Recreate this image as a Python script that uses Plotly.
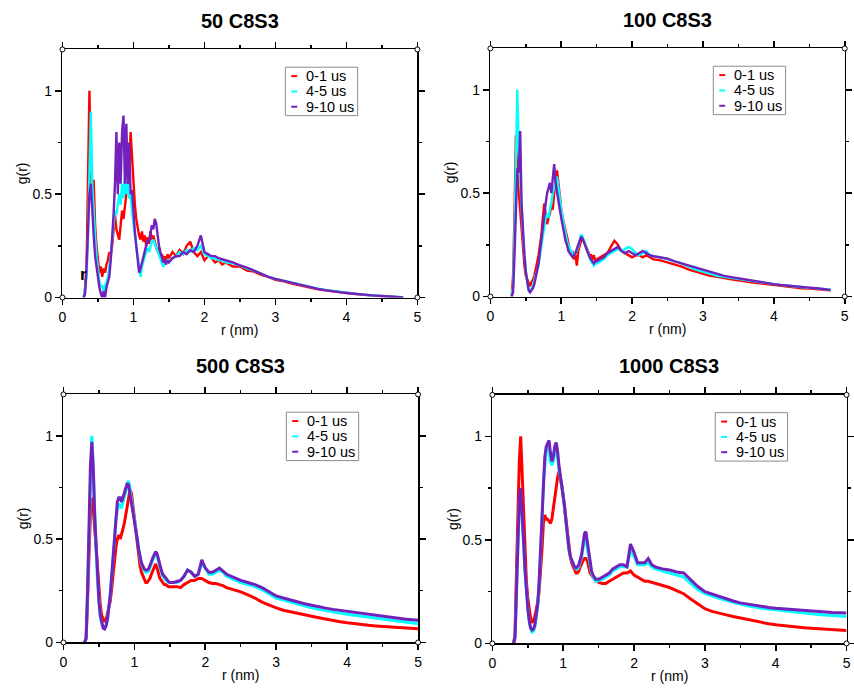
import plotly.graph_objects as go

W, H = 854, 691
FONT = "Liberation Sans, Arial, sans-serif"

# ---------------- data ----------------
r = [0.30, 0.32, 0.34, 0.36, 0.38, 0.40, 0.42, 0.44, 0.46, 0.48,
     0.50, 0.52, 0.54, 0.56, 0.58, 0.60, 0.62, 0.64, 0.66, 0.68,
     0.70, 0.72, 0.74, 0.76, 0.78, 0.80, 0.82, 0.84, 0.86, 0.88,
     0.90, 0.92, 0.94, 0.96, 0.98, 1.00, 1.02, 1.04, 1.06, 1.08,
     1.10, 1.12, 1.14, 1.16, 1.18, 1.20, 1.22, 1.24, 1.26, 1.28,
     1.30, 1.32, 1.34, 1.36, 1.38, 1.40, 1.42, 1.44, 1.46, 1.48,
     1.50, 1.55, 1.60, 1.65, 1.70, 1.75, 1.80, 1.85, 1.90, 1.95,
     2.00, 2.05, 2.10, 2.15, 2.20, 2.25, 2.30,
     2.40, 2.50, 2.60, 2.70, 2.80, 2.90, 3.00, 3.10, 3.20, 3.30,
     3.40, 3.50, 3.60, 3.70, 3.80, 3.90, 4.00, 4.10, 4.20, 4.30,
     4.40, 4.50, 4.60, 4.70, 4.80, 4.90, 5.00]

series_names = ["0-1 us", "4-5 us", "9-10 us"]
series_colors = ["#ff0000", "#00ffff", "#7221bc"]
panel_titles = ["50 C8S3", "100 C8S3", "500 C8S3", "1000 C8S3"]

# 50 C8S3
g50_0_1 = [0, 0.05, 0.15, 0.55, 1.00, 0.62, 0.45, 0.57, 0.35, 0.25,
           0.18, 0.12, 0.15, 0.10, 0.14, 0.12, 0.16, 0.18, 0.22, 0.20,
           0.25, 0.32, 0.40, 0.33, 0.30, 0.28, 0.35, 0.42, 0.38, 0.45,
           0.50, 0.55, 0.62, 0.80, 0.68, 0.52, 0.45, 0.38, 0.33, 0.30,
           0.28, 0.32, 0.27, 0.30, 0.25, 0.29, 0.26, 0.32, 0.28, 0.30,
           0.27, 0.25, 0.22, 0.24, 0.20, 0.21, 0.18, 0.20, 0.17, 0.21,
           0.19, 0.22, 0.20, 0.23, 0.21, 0.25, 0.27, 0.22, 0.20, 0.22,
           0.18, 0.20, 0.19, 0.17, 0.18, 0.16, 0.17,
           0.15, 0.15, 0.13, 0.125, 0.11, 0.10, 0.085, 0.08, 0.07, 0.062,
           0.055, 0.045, 0.04, 0.035, 0.03, 0.025, 0.022, 0.018, 0.014, 0.012,
           0.008, 0.006, 0.004, 0.002, 0.0, None, None]
g50_4_5 = [0, 0.05, 0.10, 0.30, 0.60, 0.90, 0.55, 0.40, 0.30, 0.20,
           0.12, 0.08, 0.05, 0.06, 0.03, 0.05, 0.08, 0.10, 0.15, 0.20,
           0.28, 0.35, 0.42, 0.40, 0.45, 0.50, 0.45, 0.55, 0.48, 0.58,
           0.50, 0.55, 0.48, 0.50, 0.42, 0.35, 0.30, 0.25, 0.20, 0.15,
           0.10, 0.15, 0.18, 0.20, 0.22, 0.24, 0.22, 0.25, 0.27, 0.28,
           0.26, 0.24, 0.22, 0.20, 0.18, 0.17, 0.15, 0.16, 0.17, 0.18,
           0.17, 0.19, 0.20, 0.22, 0.21, 0.23, 0.22, 0.24, 0.23, 0.25,
           0.21, 0.20, 0.19, 0.19, 0.18, 0.18, 0.17,
           0.165, 0.155, 0.14, 0.13, 0.115, 0.10, 0.09, 0.082, 0.073, 0.065,
           0.058, 0.05, 0.043, 0.037, 0.032, 0.027, 0.023, 0.019, 0.015, 0.012,
           0.009, 0.007, 0.005, 0.003, 0.001, None, None]
g50_9_10 = [0, 0.02, 0.15, 0.30, 0.50, 0.55, 0.40, 0.30, 0.20, 0.15,
            0.08, 0.05, 0.02, 0.0, 0.03, 0.0, 0.05, 0.08, 0.10, 0.18,
            0.28, 0.40, 0.55, 0.80, 0.50, 0.75, 0.55, 0.80, 0.88, 0.55,
            0.84, 0.55, 0.75, 0.50, 0.52, 0.40, 0.32, 0.25, 0.18, 0.12,
            0.14, 0.17, 0.20, 0.23, 0.25, 0.28, 0.27, 0.32, 0.35, 0.33,
            0.38, 0.36, 0.30, 0.25, 0.22, 0.20, 0.17, 0.18, 0.16, 0.18,
            0.17, 0.19, 0.20, 0.20, 0.22, 0.21, 0.23, 0.22, 0.25, 0.30,
            0.22, 0.21, 0.20, 0.20, 0.19, 0.185, 0.18,
            0.17, 0.155, 0.145, 0.13, 0.115, 0.10, 0.09, 0.082, 0.072, 0.065,
            0.057, 0.05, 0.042, 0.036, 0.03, 0.026, 0.022, 0.018, 0.015, 0.012,
            0.009, 0.007, 0.004, 0.002, 0.0, None, None]

# 100 C8S3
g100_0_1 = [0, 0.10, 0.40, 0.78, 0.60, 0.50, 0.42, 0.35, 0.25, 0.15,
            0.10, 0.08, 0.07, 0.05, 0.07, 0.08, 0.10, 0.13, 0.16, 0.20,
            0.25, 0.30, 0.38, 0.45, 0.40, 0.35, 0.38, 0.40, 0.45, 0.42,
            0.50, 0.55, 0.61, 0.55, 0.48, 0.42, 0.38, 0.35, 0.32, 0.28,
            0.25, 0.22, 0.20, 0.22, 0.18, 0.20, 0.15, 0.22, 0.25, 0.27,
            0.28, 0.27, 0.25, 0.23, 0.22, 0.20, 0.20, 0.18, 0.20, 0.17,
            0.18, 0.19, 0.20, 0.21, 0.24, 0.27, 0.25, 0.22, 0.21, 0.20,
            0.19, 0.20, 0.20, 0.19, 0.20, 0.19, 0.18,
            0.175, 0.165, 0.155, 0.145, 0.13, 0.12, 0.11, 0.10, 0.095, 0.088,
            0.083, 0.078, 0.072, 0.068, 0.064, 0.06, 0.055, 0.05, 0.047, 0.044,
            0.04, 0.038, 0.035, 0.032, 0.03, None, None]
g100_4_5 = [0, 0.05, 0.30, 0.65, 1.00, 0.70, 0.55, 0.42, 0.30, 0.20,
            0.12, 0.06, 0.03, 0.02, 0.04, 0.05, 0.08, 0.10, 0.12, 0.15,
            0.20, 0.25, 0.30, 0.35, 0.38, 0.40, 0.38, 0.42, 0.45, 0.50,
            0.52, 0.55, 0.58, 0.52, 0.47, 0.42, 0.38, 0.34, 0.30, 0.27,
            0.25, 0.23, 0.22, 0.21, 0.20, 0.21, 0.22, 0.24, 0.27, 0.30,
            0.29, 0.27, 0.24, 0.22, 0.20, 0.19, 0.17, 0.16, 0.15, 0.16,
            0.16, 0.17, 0.18, 0.20, 0.21, 0.22, 0.23, 0.22, 0.23, 0.24,
            0.23, 0.21, 0.20, 0.21, 0.22, 0.20, 0.195,
            0.19, 0.18, 0.17, 0.16, 0.145, 0.13, 0.12, 0.11, 0.10, 0.095,
            0.09, 0.085, 0.078, 0.072, 0.068, 0.064, 0.06, 0.055, 0.052, 0.048,
            0.045, 0.042, 0.04, 0.036, 0.033, None, None]
g100_9_10 = [0, 0.02, 0.20, 0.45, 0.62, 0.60, 0.80, 0.45, 0.30, 0.20,
             0.12, 0.06, 0.03, 0.02, 0.03, 0.04, 0.06, 0.09, 0.12, 0.16,
             0.22, 0.28, 0.35, 0.42, 0.45, 0.50, 0.52, 0.55, 0.50, 0.58,
             0.64, 0.55, 0.50, 0.47, 0.42, 0.38, 0.34, 0.30, 0.27, 0.25,
             0.22, 0.21, 0.20, 0.19, 0.20, 0.21, 0.23, 0.25, 0.27, 0.29,
             0.28, 0.26, 0.24, 0.22, 0.20, 0.19, 0.18, 0.17, 0.16, 0.17,
             0.17, 0.18, 0.19, 0.21, 0.22, 0.23, 0.24, 0.22, 0.21, 0.22,
             0.21, 0.20, 0.21, 0.22, 0.21, 0.20, 0.195,
             0.19, 0.183, 0.17, 0.16, 0.148, 0.138, 0.128, 0.118, 0.108, 0.10,
             0.094, 0.088, 0.082, 0.077, 0.072, 0.067, 0.06, 0.056, 0.052, 0.049,
             0.046, 0.043, 0.04, 0.036, 0.032, None, None]

# 500 C8S3
g500_0_1 = [0, 0.02, 0.20, 0.45, 0.62, 0.70, 0.65, 0.55, 0.45, 0.35,
            0.26, 0.18, 0.13, 0.11, 0.10, 0.11, 0.14, 0.17, 0.20, 0.26,
            0.33, 0.40, 0.46, 0.50, 0.52, 0.50, 0.52, 0.55, 0.58, 0.62,
            0.67, 0.72, 0.74, 0.72, 0.66, 0.60, 0.54, 0.48, 0.42, 0.37,
            0.34, 0.32, 0.30, 0.29, 0.29, 0.30, 0.31, 0.33, 0.35, 0.37,
            0.38, 0.36, 0.33, 0.31, 0.30, 0.29, 0.28, 0.28, 0.275, 0.27,
            0.27, 0.27, 0.27, 0.265, 0.28, 0.29, 0.30, 0.30, 0.31, 0.31,
            0.30, 0.29, 0.285, 0.285, 0.28, 0.275, 0.265,
            0.255, 0.245, 0.23, 0.215, 0.195, 0.18, 0.167, 0.156, 0.148, 0.14,
            0.133, 0.127, 0.12, 0.113, 0.105, 0.10, 0.095, 0.09, 0.087, 0.083,
            0.08, 0.078, 0.075, 0.072, 0.07, 0.068, 0.066]
g500_4_5 = [0, 0.02, 0.25, 0.55, 0.85, 1.00, 0.85, 0.62, 0.45, 0.30,
            0.20, 0.13, 0.09, 0.07, 0.07, 0.08, 0.11, 0.16, 0.23, 0.32,
            0.42, 0.52, 0.60, 0.64, 0.67, 0.66, 0.65, 0.68, 0.70, 0.73,
            0.77, 0.78, 0.74, 0.68, 0.64, 0.60, 0.55, 0.50, 0.45, 0.41,
            0.38, 0.36, 0.35, 0.34, 0.34, 0.345, 0.36, 0.38, 0.40, 0.42,
            0.43, 0.42, 0.39, 0.36, 0.34, 0.32, 0.31, 0.30, 0.295, 0.29,
            0.29, 0.29, 0.29, 0.30, 0.32, 0.35, 0.34, 0.32, 0.33, 0.38,
            0.36, 0.33, 0.33, 0.34, 0.35, 0.34, 0.32,
            0.305, 0.29, 0.28, 0.27, 0.255, 0.235, 0.215, 0.205, 0.195, 0.185,
            0.175, 0.168, 0.16, 0.153, 0.148, 0.142, 0.137, 0.132, 0.127, 0.122,
            0.117, 0.112, 0.107, 0.103, 0.099, 0.095, 0.092]
g500_9_10 = [0, 0.02, 0.25, 0.55, 0.85, 0.97, 0.85, 0.62, 0.45, 0.30,
             0.20, 0.13, 0.09, 0.07, 0.065, 0.08, 0.11, 0.16, 0.23, 0.32,
             0.42, 0.53, 0.62, 0.68, 0.70, 0.70, 0.68, 0.70, 0.72, 0.75,
             0.77, 0.76, 0.72, 0.67, 0.63, 0.60, 0.55, 0.50, 0.45, 0.41,
             0.385, 0.37, 0.355, 0.35, 0.35, 0.355, 0.37, 0.39, 0.41, 0.43,
             0.44, 0.43, 0.40, 0.37, 0.35, 0.33, 0.32, 0.31, 0.30, 0.295,
             0.29, 0.29, 0.295, 0.30, 0.32, 0.35, 0.34, 0.32, 0.33, 0.40,
             0.36, 0.34, 0.34, 0.35, 0.36, 0.345, 0.33,
             0.315, 0.30, 0.29, 0.28, 0.265, 0.245, 0.225, 0.215, 0.205, 0.195,
             0.187, 0.18, 0.172, 0.166, 0.16, 0.155, 0.15, 0.145, 0.14, 0.135,
             0.13, 0.126, 0.122, 0.118, 0.114, 0.11, 0.107]

# 1000 C8S3
g1000_0_1 = [0, 0.05, 0.35, 0.65, 0.88, 1.00, 0.82, 0.60, 0.42, 0.30,
             0.22, 0.16, 0.12, 0.10, 0.11, 0.13, 0.16, 0.20, 0.25, 0.33,
             0.45, 0.58, 0.62, 0.60, 0.60, 0.59, 0.58, 0.60, 0.65, 0.72,
             0.77, 0.80, 0.83, 0.80, 0.76, 0.71, 0.65, 0.58, 0.52, 0.46,
             0.42, 0.39, 0.37, 0.35, 0.34, 0.34, 0.35, 0.37, 0.39, 0.40,
             0.41, 0.41, 0.40, 0.37, 0.34, 0.33, 0.32, 0.31, 0.30, 0.30,
             0.295, 0.29, 0.29, 0.30, 0.31, 0.32, 0.33, 0.34, 0.34, 0.35,
             0.33, 0.32, 0.31, 0.30, 0.30, 0.295, 0.29,
             0.28, 0.27, 0.255, 0.24, 0.215, 0.19, 0.168, 0.155, 0.145, 0.138,
             0.13, 0.123, 0.116, 0.108, 0.10, 0.095, 0.09, 0.086, 0.082, 0.079,
             0.076, 0.074, 0.071, 0.068, 0.066, 0.064, 0.062]
g1000_4_5 = [0, 0.03, 0.25, 0.50, 0.68, 0.72, 0.62, 0.48, 0.35, 0.25,
             0.17, 0.11, 0.07, 0.055, 0.06, 0.08, 0.12, 0.18, 0.28, 0.42,
             0.60, 0.78, 0.88, 0.93, 0.95, 0.93, 0.88, 0.86, 0.88, 0.92,
             0.93, 0.90, 0.84, 0.80, 0.76, 0.72, 0.65, 0.58, 0.51, 0.45,
             0.42, 0.40, 0.38, 0.37, 0.36, 0.36, 0.37, 0.39, 0.42, 0.46,
             0.50, 0.50, 0.46, 0.41, 0.37, 0.34, 0.32, 0.31, 0.30, 0.30,
             0.305, 0.31, 0.32, 0.33, 0.35, 0.36, 0.37, 0.37, 0.37, 0.45,
             0.42, 0.38, 0.38, 0.38, 0.39, 0.37, 0.36,
             0.35, 0.34, 0.33, 0.32, 0.29, 0.26, 0.24, 0.228, 0.218, 0.208,
             0.198, 0.19, 0.182, 0.175, 0.17, 0.166, 0.162, 0.158, 0.153, 0.15,
             0.147, 0.144, 0.14, 0.137, 0.135, 0.132, 0.13]
g1000_9_10 = [0, 0.03, 0.25, 0.52, 0.70, 0.75, 0.64, 0.50, 0.36, 0.25,
              0.17, 0.11, 0.075, 0.065, 0.07, 0.09, 0.13, 0.19, 0.30, 0.45,
              0.63, 0.80, 0.90, 0.95, 0.97, 0.98, 0.92, 0.88, 0.90, 0.95,
              0.97, 0.93, 0.86, 0.81, 0.77, 0.73, 0.66, 0.59, 0.52, 0.46,
              0.42, 0.40, 0.38, 0.37, 0.365, 0.37, 0.38, 0.40, 0.43, 0.48,
              0.53, 0.54, 0.49, 0.43, 0.38, 0.35, 0.33, 0.32, 0.31, 0.31,
              0.31, 0.32, 0.33, 0.34, 0.36, 0.37, 0.38, 0.38, 0.37, 0.48,
              0.44, 0.39, 0.39, 0.39, 0.41, 0.38, 0.37,
              0.36, 0.355, 0.345, 0.34, 0.305, 0.275, 0.25, 0.238, 0.226, 0.215,
              0.205, 0.196, 0.19, 0.184, 0.178, 0.174, 0.17, 0.167, 0.164, 0.161,
              0.158, 0.155, 0.153, 0.151, 0.149, 0.148, 0.147]

x_ticks = [0, 1, 2, 3, 4, 5]
y_ticks = [0, 0.5, 1]

panel_data = [
    [g50_0_1, g50_4_5, g50_9_10],
    [g100_0_1, g100_4_5, g100_9_10],
    [g500_0_1, g500_4_5, g500_9_10],
    [g1000_0_1, g1000_4_5, g1000_9_10],
]
for group in panel_data:
    for s in group:
        assert len(s) == len(r), len(s)

# plot-area boxes in pixels: left, right, top, bottom
boxes = [
    (59, 417.3, 50, 301),
    (491, 848.7, 49, 300),
    (60, 418, 399, 650),
    (493, 850.5, 399.5, 651),
]


def px(x):
    return x / W


def py(y):
    return 1 - y / H


fig = go.Figure()
shapes = []
annotations = []

for i, (title, group, box) in enumerate(zip(panel_titles, panel_data, boxes)):
    n = "" if i == 0 else str(i + 1)
    left, right, top, bottom = box
    lw = 2.4 if i < 2 else 3
    for name, color, vals in zip(series_names, series_colors, group):
        fig.add_trace(go.Scatter(
            x=r, y=vals, mode="lines", name=name,
            line=dict(color=color, width=lw),
            xaxis="x" + n, yaxis="y" + n, showlegend=False,
        ))
    common = dict(showline=True, linecolor="black", linewidth=1.6, mirror="ticks",
                  ticks="outside", ticklen=6, tickwidth=1.6, tickcolor="black",
                  showgrid=False, zeroline=False, ticklabeloverflow="allow",
                  tickfont=dict(family=FONT, size=14, color="black"))
    fig.layout["xaxis" + n] = dict(
        domain=[px(left), px(right)], anchor="y" + n, range=[0, 5],
        tickvals=x_ticks,
        minor=dict(tickvals=[0.5, 1.5, 2.5, 3.5, 4.5], ticklen=3, tickwidth=1.4,
                   ticks="outside", tickcolor="black", showgrid=False),
        **common)
    fig.layout["yaxis" + n] = dict(
        domain=[py(bottom), py(top)], anchor="x" + n, range=[0, 1.2],
        tickvals=y_ticks,
        minor=dict(tickvals=[0.25, 0.75], ticklen=3, tickwidth=1.4,
                   ticks="outside", tickcolor="black", showgrid=False),
        **common)

    # title
    annotations.append(dict(
        text="<b>%s</b>" % title, x=px((left + right) / 2), y=py(top - 29),
        xref="paper", yref="paper", showarrow=False, xanchor="center", yanchor="middle",
        font=dict(family=FONT, size=20, color="black")))
    # axis titles
    annotations.append(dict(
        text="r (nm)", x=px((left + right) / 2), y=py(bottom + 33),
        xref="paper", yref="paper", showarrow=False, xanchor="center", yanchor="middle",
        font=dict(family=FONT, size=14, color="black")))
    annotations.append(dict(
        text="g(r)", x=px(left - 40), y=py((top + bottom) / 2), textangle=-90,
        xref="paper", yref="paper", showarrow=False, xanchor="center", yanchor="middle",
        font=dict(family=FONT, size=14, color="black")))

    # legend box
    lx, ly = left + 225, top + 18
    shapes.append(dict(type="rect", xref="paper", yref="paper",
                       x0=px(lx), x1=px(lx + 73), y0=py(ly), y1=py(ly + 49),
                       line=dict(color="#8c8c8c", width=1), fillcolor="white", layer="above"))
    for k, (name, color) in enumerate(zip(series_names, series_colors)):
        yy = ly + 9 + k * 15.5
        shapes.append(dict(type="line", xref="paper", yref="paper",
                           x0=px(lx + 6), x1=px(lx + 12), y0=py(yy), y1=py(yy),
                           line=dict(color=color, width=2), layer="above"))
        annotations.append(dict(
            text=name, x=px(lx + 19), y=py(yy), xref="paper", yref="paper",
            showarrow=False, xanchor="left", yanchor="middle",
            font=dict(family=FONT, size=14.5, color="black")))

    # corner circles
    xd = "x" + n + " domain"
    yd = "y" + n + " domain"
    for cx in (0, 1):
        for cy in (0, 1):
            shapes.append(dict(type="circle", xref=xd, yref=yd,
                               xsizemode="pixel", ysizemode="pixel",
                               xanchor=cx, yanchor=cy, x0=-2.5, x1=2.5, y0=-2.5, y1=2.5,
                               line=dict(color="black", width=1), fillcolor="white",
                               layer="above"))

# stray label in the first panel
annotations.append(dict(
    text="<b>r</b>", x=px(80), y=py(278), xref="paper", yref="paper",
    showarrow=False, xanchor="center", yanchor="middle",
    font=dict(family=FONT, size=17, color="black")))

fig.update_layout(
    width=W, height=H, margin=dict(l=0, r=0, t=0, b=0),
    paper_bgcolor="white", plot_bgcolor="white",
    shapes=shapes, annotations=annotations, showlegend=False,
    font=dict(family=FONT, color="black"), hovermode=False,
)

fig.write_html(
    "out.html",
    config={"displayModeBar": False, "staticPlot": True},
    post_script="document.body.style.margin='0px';document.body.style.padding='0px';",
)
